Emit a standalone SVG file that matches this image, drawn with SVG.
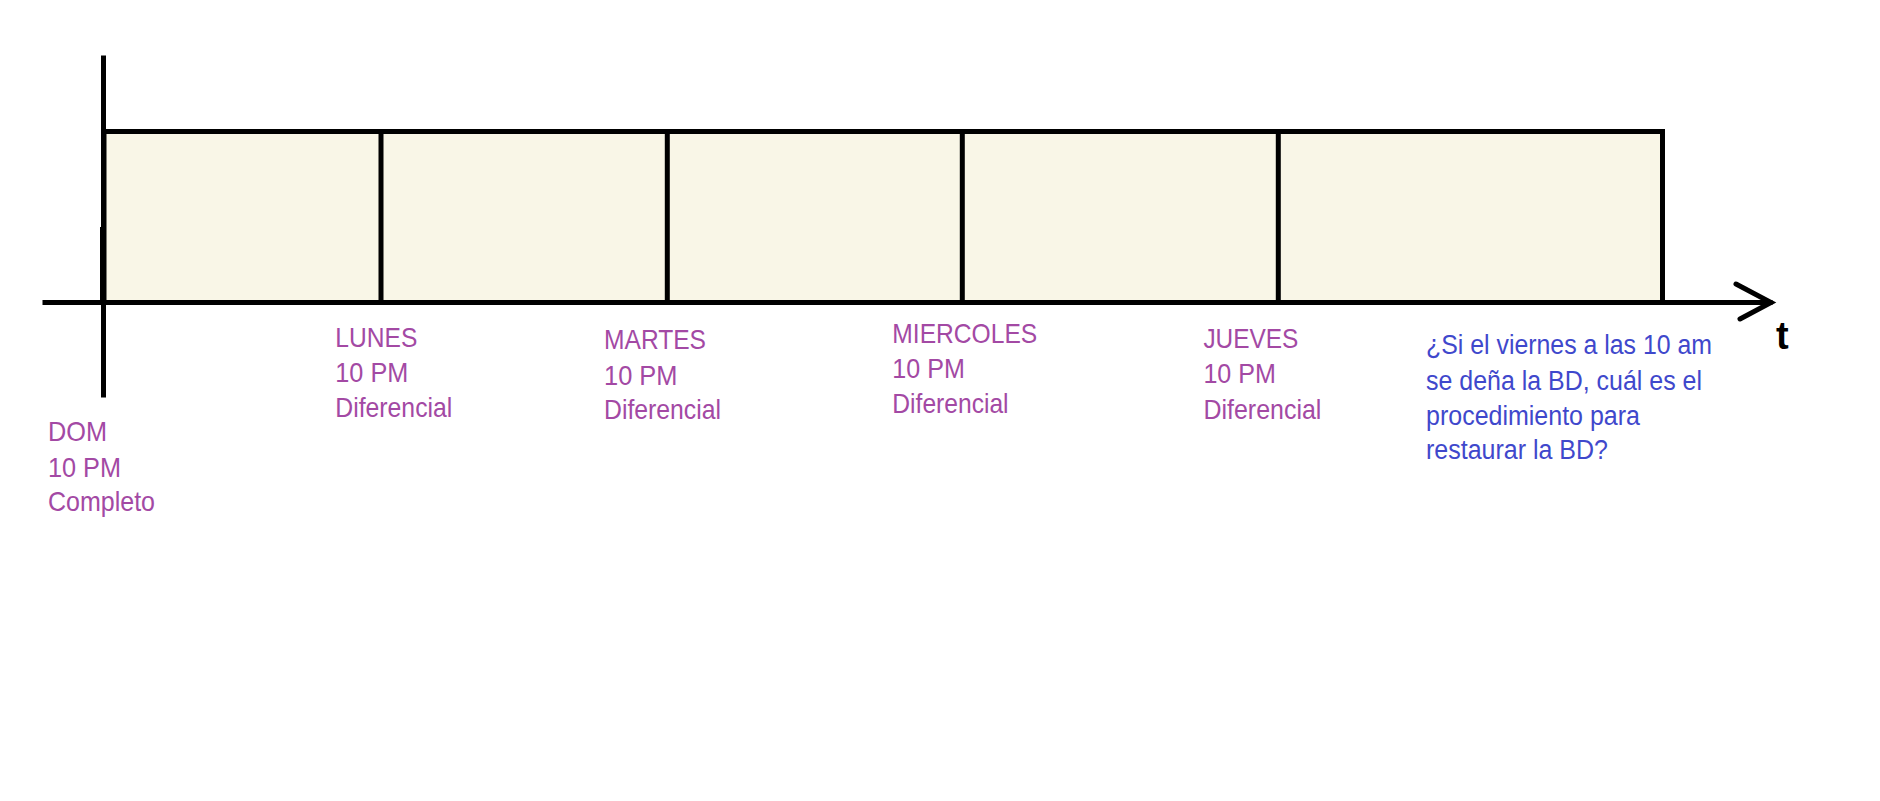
<svg xmlns="http://www.w3.org/2000/svg" width="1880" height="801" viewBox="0 0 1880 801">
<style>
.ln{stroke:#000;stroke-width:5;fill:none;stroke-linecap:square}
.cell{fill:#f9f6e7;stroke:#000;stroke-width:5}
.p{font-family:"Liberation Sans",Arial,sans-serif;font-size:28px;fill:#a349a4}
.b{font-family:"Liberation Sans",Arial,sans-serif;font-size:27px;fill:#3f48cc}
.t{font-family:"Liberation Sans",Arial,sans-serif;font-size:38px;font-weight:bold;fill:#000}
</style>
<rect width="1880" height="801" fill="#fff"/>
<g id="timeline">
<rect class="cell" x="104" y="131.5" width="1558.5" height="171"/>
<line class="ln" x1="381" y1="131.5" x2="381" y2="302.5"/>
<line class="ln" x1="667.3" y1="131.5" x2="667.3" y2="302.5"/>
<line class="ln" x1="962.3" y1="131.5" x2="962.3" y2="302.5"/>
<line class="ln" x1="1278.3" y1="134" x2="1278.3" y2="302.5"/>
</g>
<g id="axes">
<line class="ln" x1="103.5" y1="58" x2="103.5" y2="395"/>
<line x1="101.5" y1="227" x2="101.5" y2="302" stroke="#000" stroke-width="3"/>
<line class="ln" x1="45" y1="302.5" x2="1770" y2="302.5"/>
<polyline points="1736,284 1771,302.5 1740,319" fill="none" stroke="#000" stroke-width="5" stroke-linecap="round" stroke-linejoin="miter"/>
<text class="t" x="1776" y="349">t</text>
</g>
<g id="dom">
<text class="p" x="48" y="440.7" textLength="59" lengthAdjust="spacingAndGlyphs">DOM</text>
<text class="p" x="48" y="476.7" textLength="73" lengthAdjust="spacingAndGlyphs">10 PM</text>
<text class="p" x="48" y="510.7" textLength="107" lengthAdjust="spacingAndGlyphs">Completo</text>
</g>
<g id="lunes">
<text class="p" x="335.3" y="346.7" textLength="82" lengthAdjust="spacingAndGlyphs">LUNES</text>
<text class="p" x="335.3" y="381.7" textLength="73" lengthAdjust="spacingAndGlyphs">10 PM</text>
<text class="p" x="335.3" y="416.7" textLength="117" lengthAdjust="spacingAndGlyphs">Diferencial</text>
</g>
<g id="martes">
<text class="p" x="604" y="349.3" textLength="102" lengthAdjust="spacingAndGlyphs">MARTES</text>
<text class="p" x="604" y="385" textLength="73.5" lengthAdjust="spacingAndGlyphs">10 PM</text>
<text class="p" x="604" y="419.3" textLength="117" lengthAdjust="spacingAndGlyphs">Diferencial</text>
</g>
<g id="miercoles">
<text class="p" x="892.3" y="342.7" textLength="145" lengthAdjust="spacingAndGlyphs">MIERCOLES</text>
<text class="p" x="892.3" y="378.3" textLength="72.5" lengthAdjust="spacingAndGlyphs">10 PM</text>
<text class="p" x="892.3" y="412.7" textLength="116.3" lengthAdjust="spacingAndGlyphs">Diferencial</text>
</g>
<g id="jueves">
<text class="p" x="1203.4" y="348.3" textLength="95" lengthAdjust="spacingAndGlyphs">JUEVES</text>
<text class="p" x="1203.4" y="383.3" textLength="72.5" lengthAdjust="spacingAndGlyphs">10 PM</text>
<text class="p" x="1203.4" y="419" textLength="118" lengthAdjust="spacingAndGlyphs">Diferencial</text>
</g>
<g id="pregunta">
<text class="b" x="1426" y="354.3" textLength="286" lengthAdjust="spacingAndGlyphs">¿Si el viernes a las 10 am</text>
<text class="b" x="1426" y="390" textLength="276" lengthAdjust="spacingAndGlyphs">se deña la BD, cuál es el</text>
<text class="b" x="1426" y="425" textLength="214" lengthAdjust="spacingAndGlyphs">procedimiento para</text>
<text class="b" x="1426" y="459.3" textLength="182" lengthAdjust="spacingAndGlyphs">restaurar la BD?</text>
</g>
</svg>
